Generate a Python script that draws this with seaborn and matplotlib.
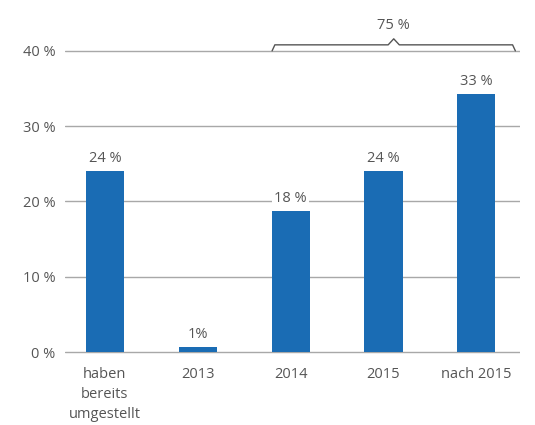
import seaborn as sns
import matplotlib.pyplot as plt
import pandas as pd

categories = ["haben\nbereits\numgestellt", "2013", "2014", "2015", "nach 2015"]
values = [24.1, 0.7, 18.8, 24.1, 34.3]
labels = ["24 %", "1%", "18 %", "24 %", "33 %"]
yticks = [0, 10, 20, 30, 40]
total_label = "75 %"

df = pd.DataFrame({"kat": categories, "wert": values})

sns.set_style("white")
plt.rcParams["font.family"] = ["Open Sans", "DejaVu Sans"]

fig = plt.figure(figsize=(5.35, 4.25), dpi=100)
ax = fig.add_axes([0.1215, 0.168, 0.8505, 0.808])

sns.barplot(data=df, x="kat", y="wert", color="#1a6cb4", width=0.41,
            saturation=1, linewidth=0, ax=ax, zorder=3)

ax.set_xlim(-0.43, 4.47)
ax.set_ylim(-0.2, 45.4)
ax.set_yticks(yticks)
ax.set_yticklabels([f"{t} %" for t in yticks])
ax.set_xlabel("")
ax.set_ylabel("")
ax.yaxis.grid(True, color="#a8a8a8", linewidth=1)
ax.set_axisbelow(True)
for s in ax.spines.values():
    s.set_visible(False)
ax.tick_params(axis="both", length=0, labelsize=10.5, labelcolor="#555555")
ax.tick_params(axis="y", pad=7)
ax.tick_params(axis="x", pad=10)
for t in ax.get_xticklabels():
    t.set_linespacing(1.45)

# Werte über den Balken
for i, (v, lab) in enumerate(zip(values, labels)):
    ax.text(i, v + 0.6, lab, ha="center", va="bottom", fontsize=10.5,
            color="#555555", zorder=4,
            bbox=dict(facecolor="white", edgecolor="none", pad=1.5))

# geschweifte Klammer über 2014 bis nach 2015
x0, x1 = 1.80, 4.42
xm = (x0 + x1) / 2
bx = [x0, x0 + 0.03, xm - 0.06, xm, xm + 0.06, x1 - 0.03, x1]
by = [40.0, 40.8, 40.8, 41.6, 40.8, 40.8, 40.0]
ax.plot(bx, by, color="#555555", linewidth=1, clip_on=False, zorder=4)
ax.text(xm, 42.4, total_label, ha="center", va="bottom", fontsize=10.5,
        color="#555555")

plt.savefig("out.png", dpi=100)
